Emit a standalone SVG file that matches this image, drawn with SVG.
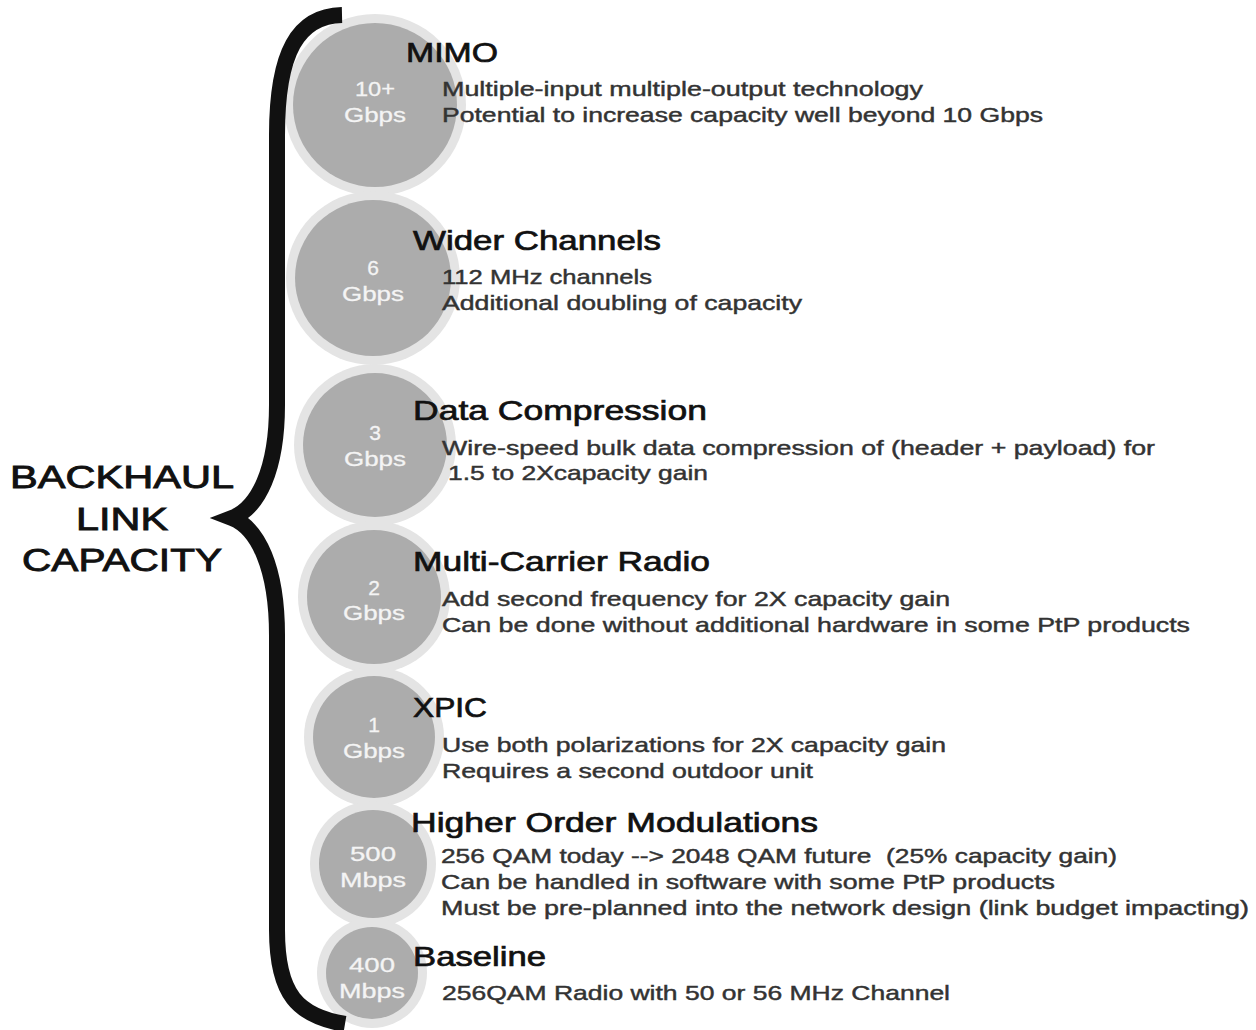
<svg xmlns="http://www.w3.org/2000/svg" width="1256" height="1030" viewBox="0 0 1256 1030">
<style>
.halo{fill:#e4e4e4}
.core{fill:#acacac}
.ct{font-family:"Liberation Sans",Arial,sans-serif;font-size:21px;fill:#f4f4f4;stroke:#f4f4f4;stroke-width:0.3;text-anchor:middle}
.title{font-family:"Liberation Sans",Arial,sans-serif;font-size:28px;fill:#111;stroke:#111;stroke-width:0.7}
.desc{font-family:"Liberation Sans",Arial,sans-serif;font-size:21px;fill:#333;stroke:#333;stroke-width:0.45}
.big{font-family:"Liberation Sans",Arial,sans-serif;font-size:32px;fill:#111;stroke:#111;stroke-width:0.9;text-anchor:middle}
</style>
<rect width="1256" height="1030" fill="#fff"/>

<g id="label">
<text class="big" x="122" y="488" textLength="224" lengthAdjust="spacingAndGlyphs">BACKHAUL</text>
<text class="big" x="122" y="530" textLength="92" lengthAdjust="spacingAndGlyphs">LINK</text>
<text class="big" x="122" y="571" textLength="200" lengthAdjust="spacingAndGlyphs">CAPACITY</text>
</g>

<g id="node-mimo">
<circle class="halo" cx="375" cy="105" r="91"/>
<circle class="core" cx="375" cy="105" r="82"/>
<text class="ct" x="375" y="96" textLength="40" lengthAdjust="spacingAndGlyphs">10+</text>
<text class="ct" x="375" y="122" textLength="62" lengthAdjust="spacingAndGlyphs">Gbps</text>
<text class="title" x="406" y="62" textLength="92" lengthAdjust="spacingAndGlyphs">MIMO</text>
<text class="desc" x="442" y="96" textLength="481" lengthAdjust="spacingAndGlyphs">Multiple-input multiple-output technology</text>
<text class="desc" x="442" y="122" textLength="601" lengthAdjust="spacingAndGlyphs">Potential to increase capacity well beyond 10 Gbps</text>
</g>

<g id="node-wider">
<circle class="halo" cx="373" cy="278" r="87"/>
<circle class="core" cx="373" cy="278" r="78"/>
<text class="ct" x="373" y="275">6</text>
<text class="ct" x="373" y="301" textLength="62" lengthAdjust="spacingAndGlyphs">Gbps</text>
<text class="title" x="413" y="250" textLength="248" lengthAdjust="spacingAndGlyphs">Wider Channels</text>
<text class="desc" x="442" y="284" textLength="210" lengthAdjust="spacingAndGlyphs">112 MHz channels</text>
<text class="desc" x="442" y="310" textLength="360" lengthAdjust="spacingAndGlyphs">Additional doubling of capacity</text>
</g>

<g id="node-compression">
<circle class="halo" cx="375" cy="445" r="81"/>
<circle class="core" cx="375" cy="445" r="72"/>
<text class="ct" x="375" y="440">3</text>
<text class="ct" x="375" y="466" textLength="62" lengthAdjust="spacingAndGlyphs">Gbps</text>
<text class="title" x="413" y="420" textLength="294" lengthAdjust="spacingAndGlyphs">Data Compression</text>
<text class="desc" x="442" y="455" textLength="713" lengthAdjust="spacingAndGlyphs">Wire-speed bulk data compression of (header + payload) for</text>
<text class="desc" x="448" y="480" textLength="260" lengthAdjust="spacingAndGlyphs">1.5 to 2Xcapacity gain</text>
</g>

<g id="node-multicarrier">
<circle class="halo" cx="374" cy="597" r="76"/>
<circle class="core" cx="374" cy="597" r="67"/>
<text class="ct" x="374" y="595">2</text>
<text class="ct" x="374" y="620" textLength="62" lengthAdjust="spacingAndGlyphs">Gbps</text>
<text class="title" x="413" y="571" textLength="297" lengthAdjust="spacingAndGlyphs">Multi-Carrier Radio</text>
<text class="desc" x="442" y="606" textLength="508" lengthAdjust="spacingAndGlyphs">Add second frequency for 2X capacity gain</text>
<text class="desc" x="442" y="632" textLength="748" lengthAdjust="spacingAndGlyphs">Can be done without additional hardware in some PtP products</text>
</g>

<g id="node-xpic">
<circle class="halo" cx="374" cy="737" r="70"/>
<circle class="core" cx="374" cy="737" r="61"/>
<text class="ct" x="374" y="732">1</text>
<text class="ct" x="374" y="758" textLength="62" lengthAdjust="spacingAndGlyphs">Gbps</text>
<text class="title" x="413" y="717" textLength="74" lengthAdjust="spacingAndGlyphs">XPIC</text>
<text class="desc" x="442" y="752" textLength="504" lengthAdjust="spacingAndGlyphs">Use both polarizations for 2X capacity gain</text>
<text class="desc" x="442" y="778" textLength="371" lengthAdjust="spacingAndGlyphs">Requires a second outdoor unit</text>
</g>

<g id="node-modulation">
<circle class="halo" cx="373" cy="864" r="63"/>
<circle class="core" cx="373" cy="864" r="54"/>
<text class="ct" x="373" y="861" textLength="46" lengthAdjust="spacingAndGlyphs">500</text>
<text class="ct" x="373" y="887" textLength="66" lengthAdjust="spacingAndGlyphs">Mbps</text>
<text class="title" x="411" y="832" textLength="407" lengthAdjust="spacingAndGlyphs">Higher Order Modulations</text>
<text class="desc" x="441" y="863" textLength="676" lengthAdjust="spacingAndGlyphs" xml:space="preserve">256 QAM today --&gt; 2048 QAM future  (25% capacity gain)</text>
<text class="desc" x="441" y="889" textLength="614" lengthAdjust="spacingAndGlyphs">Can be handled in software with some PtP products</text>
<text class="desc" x="441" y="915" textLength="808" lengthAdjust="spacingAndGlyphs">Must be pre-planned into the network design (link budget impacting)</text>
</g>

<g id="node-baseline">
<circle class="halo" cx="372" cy="973" r="55"/>
<circle class="core" cx="372" cy="973" r="46"/>
<text class="ct" x="372" y="972" textLength="46" lengthAdjust="spacingAndGlyphs">400</text>
<text class="ct" x="372" y="998" textLength="66" lengthAdjust="spacingAndGlyphs">Mbps</text>
<text class="title" x="413" y="966" textLength="133" lengthAdjust="spacingAndGlyphs">Baseline</text>
<text class="desc" x="442" y="1000" textLength="508" lengthAdjust="spacingAndGlyphs">256QAM Radio with 50 or 56 MHz Channel</text>
</g>

<g id="connectors">
<path d="M 342 15 C 298 16, 277 52, 277 135 L 277 405 C 277 470, 258 508, 232 518 C 258 528, 277 568, 277 635 L 277 930 C 277 995, 298 1016, 345 1024" fill="none" stroke="#111" stroke-width="16" stroke-linejoin="miter" stroke-miterlimit="10"/>
</g>
</svg>
